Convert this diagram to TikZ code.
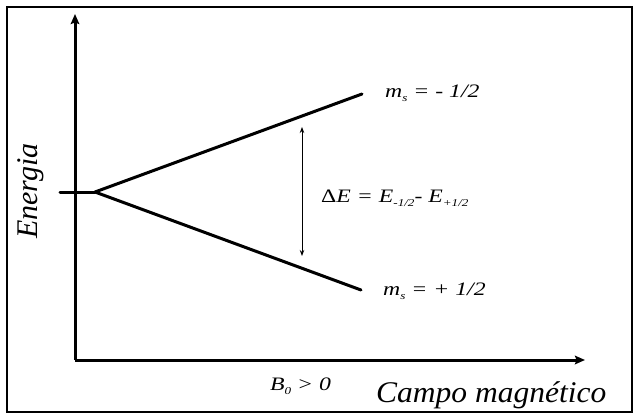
\documentclass[tikz,border=0pt]{standalone}
\usepackage{fontspec}
\setmainfont{Liberation Serif}
\usetikzlibrary{arrows.meta}
\newcommand{\lowsub}[1]{\raisebox{-0.5ex}{\fontsize{10.5}{10.5}\selectfont #1}}
\newcommand{\wide}[1]{\scalebox{1.25}[1]{#1}}
\tikzset{
  axis/.style={line width=3pt,-{Stealth[length=10pt,width=8.5pt,inset=1.5pt]}},
  level/.style={line width=3pt,line cap=round},
  gap/.style={line width=1pt,{Stealth[length=6pt,width=4.5pt]}-{Stealth[length=6pt,width=4.5pt]}},
  lbl/.style={font=\fontsize{19}{19}\selectfont\itshape,inner sep=0pt},
  big/.style={font=\fontsize{30}{30}\selectfont\itshape,inner sep=0pt}
}
\begin{document}
\begin{tikzpicture}[x=1pt,y=-1pt]
\useasboundingbox (0,0) rectangle (635,415);
\draw[line width=1.3pt] (7,7) rectangle (632,412);
\coordinate (O) at (75,360);
\coordinate (ytop) at (75,14);
\coordinate (xend) at (585,360);
\coordinate (s0) at (60,192);
\coordinate (split) at (95,192);
\coordinate (up) at (362,94);
\coordinate (lo) at (361,290);
\coordinate (gtop) at (302,127);
\coordinate (gbot) at (302,256);
\draw[axis] (O) -- (ytop);
\draw[axis] (O) -- (xend);
\draw[level] (s0) -- (split);
\draw[level] (split) -- (up);
\draw[level] (split) -- (lo);
\draw[gap] (gtop) -- (gbot);
\node[lbl,anchor=base west] (mup) at (385,97) {\wide{m\lowsub{s} = - 1/2}};
\node[lbl,anchor=base west] (mlo) at (383,295) {\wide{m\lowsub{s} = + 1/2}};
\node[lbl,anchor=base west] (dE) at (321,202) {\wide{{\upshape Δ}E = E\lowsub{-1/2}- E\lowsub{+1/2}}};
\node[lbl,anchor=base west] (B0) at (270,390) {\wide{B\lowsub{0} > 0}};
\node[big,anchor=base west] (campo) at (376,402) {\scalebox{1.05}[1]{Campo magnético}};
\node[big,rotate=90] (energia) at (31,191) {Energia};
\end{tikzpicture}
\end{document}
